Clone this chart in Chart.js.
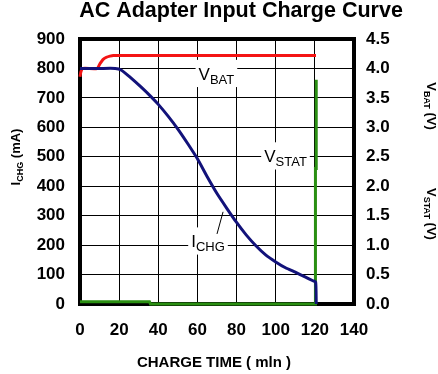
<!DOCTYPE html>
<html>
<head>
<meta charset="utf-8">
<script src="https://cdn.jsdelivr.net/npm/chart.js@4.4.1/dist/chart.umd.min.js"></script>
<style>
html, body { margin: 0; padding: 0; background: #fff; }
</style>
</head>
<body>
<canvas id="chartCharge" width="438" height="374"></canvas>
<script>
// Tick settings
const timeTicks = { min: 0, max: 140, step: 20 };
const ichgTicks = { min: 0, max: 900, step: 100 };
const voltTicks = { min: 0, max: 4.5, step: 0.5 };

// I_CHG (mA) vs time (min)
const ichgTime   = [0, 10, 18, 21, 26, 31, 36, 40, 45, 50, 55, 60, 65, 70, 75, 80, 85, 90, 95, 100, 105, 110, 115, 119, 120.4, 120.7];
const ichgValues = [800, 800, 800, 795, 768, 738, 706, 678, 638, 594, 545, 493, 432, 375, 325, 277, 234, 197, 166, 143, 123, 108, 92, 79, 75, 0];

// V_BAT (V)
const vbatTime   = [0, 0.5, 1.5, 8.7, 10.2, 11.7, 13.5, 15.3, 17, 120.6];
const vbatValues = [3.86, 3.95, 4.0, 4.0, 4.08, 4.15, 4.19, 4.21, 4.22, 4.22];

// V_STAT (V)
const vstatTime   = [0, 35.5, 36, 120.3, 120.3, 120.7, 120.7];
const vstatValues = [0.04, 0.04, 0.0, 0.0, 2.3, 2.3, 3.81];

// Curve labels, placed in (time, mA) units
const noteText = ['V', 'V', 'I'];
const noteSub  = ['BAT', 'STAT', 'CHG'];
const noteTime = [69.7, 105, 65.4];
const noteMa   = [783, 503, 214];

function toPoints(xs, ys) {
    return xs.map((x, i) => ({ x: x, y: ys[i] }));
}

const FONT = '"Liberation Sans", Arial, sans-serif';

// draws "V" + subscript, with a white box behind it
function drawSubLabel(ctx, cx, cy, main, sub, mainSize, subSize, bold, boxed) {
    const w = bold ? 'bold ' : '';
    ctx.font = w + mainSize + 'px ' + FONT;
    const mw = ctx.measureText(main).width;
    ctx.font = w + subSize + 'px ' + FONT;
    const sw = ctx.measureText(sub).width;
    const total = mw + sw;
    const x0 = cx - total / 2;
    const base = cy + mainSize * 0.36;
    if (boxed) {
        ctx.fillStyle = '#fff';
        ctx.fillRect(x0 - 3, cy - mainSize * 0.8, total + 6, mainSize * 1.6);
    }
    ctx.fillStyle = '#000';
    ctx.textAlign = 'left';
    ctx.textBaseline = 'alphabetic';
    ctx.font = w + mainSize + 'px ' + FONT;
    ctx.fillText(main, x0, base);
    ctx.font = w + subSize + 'px ' + FONT;
    ctx.fillText(sub, x0 + mw, base + 4);
}

// rotated axis title: main + subscript + rest
function drawAxisTitle(ctx, x, y, angle, main, sub, rest) {
    ctx.save();
    ctx.translate(x, y);
    ctx.rotate(angle);
    ctx.fillStyle = '#000';
    ctx.textBaseline = 'alphabetic';
    ctx.textAlign = 'left';
    ctx.font = 'bold 13px ' + FONT;
    const mw = ctx.measureText(main).width;
    const rw = ctx.measureText(rest).width;
    ctx.font = 'bold 9px ' + FONT;
    const sw = ctx.measureText(sub).width;
    let px = -(mw + sw + rw) / 2;
    ctx.font = 'bold 13px ' + FONT;
    ctx.fillText(main, px, 0);
    px += mw;
    ctx.font = 'bold 9px ' + FONT;
    ctx.fillText(sub, px, 3);
    px += sw;
    ctx.font = 'bold 13px ' + FONT;
    ctx.fillText(rest, px, 0);
    ctx.restore();
}

// thick frame round the plot, under the curves
const framePlugin = {
    id: 'frame',
    beforeDatasetsDraw(chart) {
        const { ctx, chartArea: a } = chart;
        ctx.save();
        ctx.strokeStyle = '#000';
        ctx.lineWidth = 4;
        ctx.strokeRect(a.left, a.top, a.right - a.left, a.bottom - a.top);
        ctx.restore();
    }
};

// titles and curve labels
const textPlugin = {
    id: 'texts',
    afterDraw(chart) {
        const ctx = chart.ctx;
        const xs = chart.scales.x;
        const ys = chart.scales.y;
        ctx.save();

        ctx.fillStyle = '#000';
        ctx.textAlign = 'center';
        ctx.textBaseline = 'alphabetic';
        ctx.font = 'bold 21.5px ' + FONT;
        ctx.fillText('AC Adapter Input Charge Curve', 241, 17);

        ctx.font = 'bold 15px ' + FONT;
        ctx.fillText('CHARGE TIME ( mln )', 214, 367);

        drawAxisTitle(ctx, 20, 157, -Math.PI / 2, 'I', 'CHG', ' (mA)');
        drawAxisTitle(ctx, 427, 106, Math.PI / 2, 'V', 'BAT', ' (V)');
        drawAxisTitle(ctx, 427, 214, Math.PI / 2, 'V', 'STAT', ' (V)');

        for (let i = 0; i < noteText.length; i++) {
            const cx = xs.getPixelForValue(noteTime[i]);
            const cy = ys.getPixelForValue(noteMa[i]);
            drawSubLabel(ctx, cx, cy, noteText[i], noteSub[i], 17, 13, false, true);
        }

        // leader from I_CHG label to its curve
        ctx.strokeStyle = '#000';
        ctx.lineWidth = 1;
        ctx.beginPath();
        ctx.moveTo(xs.getPixelForValue(70.0), ys.getPixelForValue(238));
        ctx.lineTo(xs.getPixelForValue(73.1), ys.getPixelForValue(313));
        ctx.stroke();

        ctx.restore();
    }
};

const tickFont = { family: FONT, size: 17, weight: 'bold' };

const ctx = document.getElementById('chartCharge').getContext('2d');
window.chargeChart = new Chart(ctx, {
    type: 'line',
    data: {
        datasets: [
            {
                label: 'ICHG',
                data: toPoints(ichgTime, ichgValues),
                yAxisID: 'y',
                borderColor: '#12127a',
                borderWidth: 3,
                pointRadius: 0,
                tension: 0.2,
                clip: false,
            },
            {
                label: 'VBAT',
                data: toPoints(vbatTime, vbatValues),
                yAxisID: 'y2',
                borderColor: '#f41414',
                borderWidth: 3,
                pointRadius: 0,
                tension: 0.2,
                clip: false,
            },
            {
                label: 'VSTAT',
                data: toPoints(vstatTime, vstatValues),
                yAxisID: 'y2',
                borderColor: '#2a8f12',
                borderWidth: 3,
                pointRadius: 0,
                tension: 0,
                clip: false,
            },
        ]
    },
    options: {
        responsive: false,
        animation: false,
        layout: { padding: { top: 39, left: 0, right: 0, bottom: 0 } },
        plugins: {
            legend: { display: false },
            tooltip: { enabled: false },
            title: { display: false },
        },
        scales: {
            x: {
                type: 'linear',
                min: timeTicks.min,
                max: timeTicks.max,
                ticks: { stepSize: timeTicks.step, color: '#000', font: tickFont, padding: 16, maxRotation: 0 },
                grid: { color: '#000', lineWidth: 1, drawTicks: false },
                border: { display: false },
                afterFit(s) { s.height = 70; },
            },
            y: {
                position: 'left',
                min: ichgTicks.min,
                max: ichgTicks.max,
                ticks: { stepSize: ichgTicks.step, color: '#000', font: tickFont, padding: 15 },
                grid: { color: '#000', lineWidth: 1, drawTicks: false },
                border: { display: false },
                afterFit(s) { s.width = 80; },
            },
            y2: {
                position: 'right',
                min: voltTicks.min,
                max: voltTicks.max,
                ticks: {
                    stepSize: voltTicks.step,
                    color: '#000',
                    font: tickFont,
                    padding: 12,
                    callback: v => v.toFixed(1),
                },
                grid: { display: false, drawTicks: false },
                border: { display: false },
                afterFit(s) { s.width = 84; },
            },
        }
    },
    plugins: [framePlugin, textPlugin]
});
</script>
</body>
</html>
